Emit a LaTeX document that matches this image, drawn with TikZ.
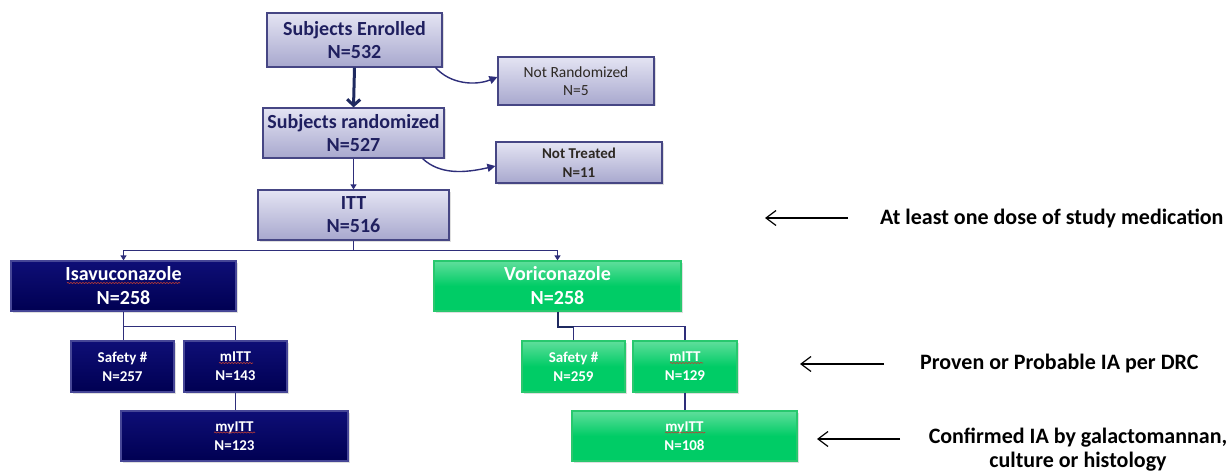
\documentclass[tikz,border=0pt]{standalone}
\usepackage{fontspec}
\setmainfont{Carlito}
\usetikzlibrary{arrows.meta,calc,shadows,decorations.pathmorphing}

\definecolor{lavtop}{RGB}{228,228,243}
\definecolor{lavbot}{RGB}{168,168,206}
\definecolor{lavedge}{RGB}{70,70,132}
\definecolor{navytxt}{RGB}{31,31,95}
\definecolor{navytop}{RGB}{14,14,118}
\definecolor{navybot}{RGB}{0,0,82}
\definecolor{navyedge}{RGB}{70,70,150}
\definecolor{greenhl}{RGB}{95,222,155}
\definecolor{greenmid}{RGB}{0,204,102}
\definecolor{greenedge}{RGB}{40,200,110}
\definecolor{linkcol}{RGB}{46,46,122}
\definecolor{thickcol}{RGB}{31,42,96}
\definecolor{squig}{RGB}{190,60,50}
\definecolor{greytxt}{RGB}{45,40,35}

\tikzset{
  box/.style={rectangle, align=center, inner sep=0pt, line width=1.2pt,
    drop shadow={opacity=0.25, shadow xshift=1.5pt, shadow yshift=-1.5pt}},
  lav/.style={box, draw=lavedge, top color=lavtop, bottom color=lavbot,
    text=navytxt, font=\fontsize{20}{23}\selectfont\bfseries},
  lavsmall/.style={lav, text=greytxt, font=\fontsize{15.5}{18}\selectfont},
  navy/.style={box, draw=navyedge, top color=navytop, bottom color=navybot,
    text=white, font=\fontsize{15}{19}\selectfont\bfseries},
  green/.style={box, draw=greenedge, top color=greenhl, bottom color=greenmid,
    shading angle=0, middle color=greenmid,
    text=white, font=\fontsize{15}{19}\selectfont\bfseries},
  big/.style={font=\fontsize{20}{24}\selectfont\bfseries},
  link/.style={draw=linkcol, line width=1.3pt},
  linkarrow/.style={link, -{Triangle[length=5pt,width=6pt]}},
  curvearrow/.style={draw=linkcol, line width=1.4pt, -{Triangle[length=8pt,width=8pt]}},
  notearrow/.style={draw=black, line width=1.2pt, -{Straight Barb[length=10pt,width=15pt]}},
  note/.style={font=\fontsize{22}{26}\selectfont\bfseries, text=black, align=center, inner sep=0pt},
  spell/.style={draw=squig, line width=0.6pt, decorate,
    decoration={snake, amplitude=0.6pt, segment length=3pt}}
}

\begin{document}
\begin{tikzpicture}[x=1pt, y=-1pt]
  \useasboundingbox (0,0) rectangle (1230,473);
  \fill[white] (0,0) rectangle (1230,473);

  % enrolment and randomisation
  \node[lav, minimum width=175pt, minimum height=54pt] (enr) at (354.5,40)
    {Subjects Enrolled\\N=532};
  \node[lavsmall, minimum width=156pt, minimum height=48pt] (nr) at (576,81)
    {Not Randomized\\N=5};
  \node[lavsmall, font=\fontsize{15}{19}\selectfont\bfseries, minimum width=166pt, minimum height=41pt] (nt) at (579,162.5)
    {Not Treated\\N=11};
  \node[lav, minimum width=181pt, minimum height=50pt] (rnd) at (353.5,133)
    {Subjects randomized\\N=527};
  \node[lav, minimum width=191pt, minimum height=50pt] (itt) at (353.5,215)
    {ITT\\N=516};

  % treatment arms
  \node[navy, big, minimum width=225pt, minimum height=50pt] (isa) at (123.5,286)
    {Isavuconazole\\N=258};
  \node[green, big, minimum width=247pt, minimum height=50pt] (vor) at (557.5,286)
    {Voriconazole\\N=258};

  % analysis populations, isavuconazole
  \node[navy, minimum width=103pt, minimum height=51pt] (sl) at (122.5,366.5)
    {Safety \#\\N=257};
  \node[navy, minimum width=103pt, minimum height=51pt] (ml) at (235.5,366.5)
    {mITT\\N=143};
  \node[navy, minimum width=227pt, minimum height=50pt] (yl) at (234.5,436)
    {myITT\\N=123};

  % analysis populations, voriconazole
  \node[green, minimum width=103pt, minimum height=51pt] (sr) at (573.5,366.5)
    {Safety \#\\N=259};
  \node[green, minimum width=104pt, minimum height=51pt] (mr) at (685,366.5)
    {mITT\\N=129};
  \node[green, minimum width=225pt, minimum height=50pt] (yr) at (684.5,436)
    {myITT\\N=108};

  % spell-check marks under the population names
  \draw[spell] (67,283) -- (180,283);
  \draw[spell] (219,363) -- (253,363);
  \draw[spell] (214,432.5) -- (255,432.5);
  \draw[spell] (670,363) -- (703,363);
  \draw[spell] (665,432.5) -- (705,432.5);

  % flow connectors
  \draw[draw=thickcol, line width=3pt, -{Straight Barb[length=6pt,width=13pt]}]
    (enr.south) -- (rnd.north);
  \draw[curvearrow] ([xshift=-7pt]enr.south east)
    .. controls (450,84) and (475,86) .. ([yshift=4pt]nr.west);
  \draw[linkarrow] (rnd.south) -- (itt.north);
  \draw[curvearrow] ([xshift=-22pt]rnd.south east)
    .. controls (440,175) and (465,173) .. ([yshift=-3.5pt]nt.west);

  \coordinate (split) at ($(itt.south)+(0,10)$);
  \draw[link] (itt.south) -- (split);
  \draw[linkarrow] (split) -| (isa.north);
  \draw[linkarrow] (split) -| (vor.north);

  \coordinate (lj) at ($(isa.south)+(0,15)$);
  \draw[link] (isa.south) -- (lj) -| (ml.north);
  \draw[link] (lj) -- (lj |- sl.north);
  \draw[link] (ml.south) -- (ml.south |- yl.north);

  \coordinate (rj) at ($(vor.south)+(0,15)$);
  \draw[link, line width=2pt, draw=thickcol] (vor.south) -- (rj) -- (rj -| sr.north);
  \draw[link] (rj -| sr.north) -| (mr.north);
  \draw[link] (sr.north) -- (rj -| sr.north);
  \draw[link] (mr.south) -- (mr.south |- yr.north);

  % population definitions
  \node[note, anchor=west] (n1) at (880,218) {At least one dose of study medication};
  \draw[notearrow] ([xshift=-32pt]n1.west) -- ++(-83,0);
  \node[note, anchor=west] (n2) at (920,364) {Proven or Probable IA per DRC};
  \draw[notearrow] ([xshift=-36pt]n2.west) -- ++(-84,0);
  \node[note, font=\fontsize{22}{24}\selectfont\bfseries] (n3) at (1078,450)
    {Confirmed IA by galactomannan,\\culture or histology};
  \coordinate (a3) at (900,439);
  \draw[notearrow] (a3) -- ++(-83,0);
\end{tikzpicture}
\end{document}
